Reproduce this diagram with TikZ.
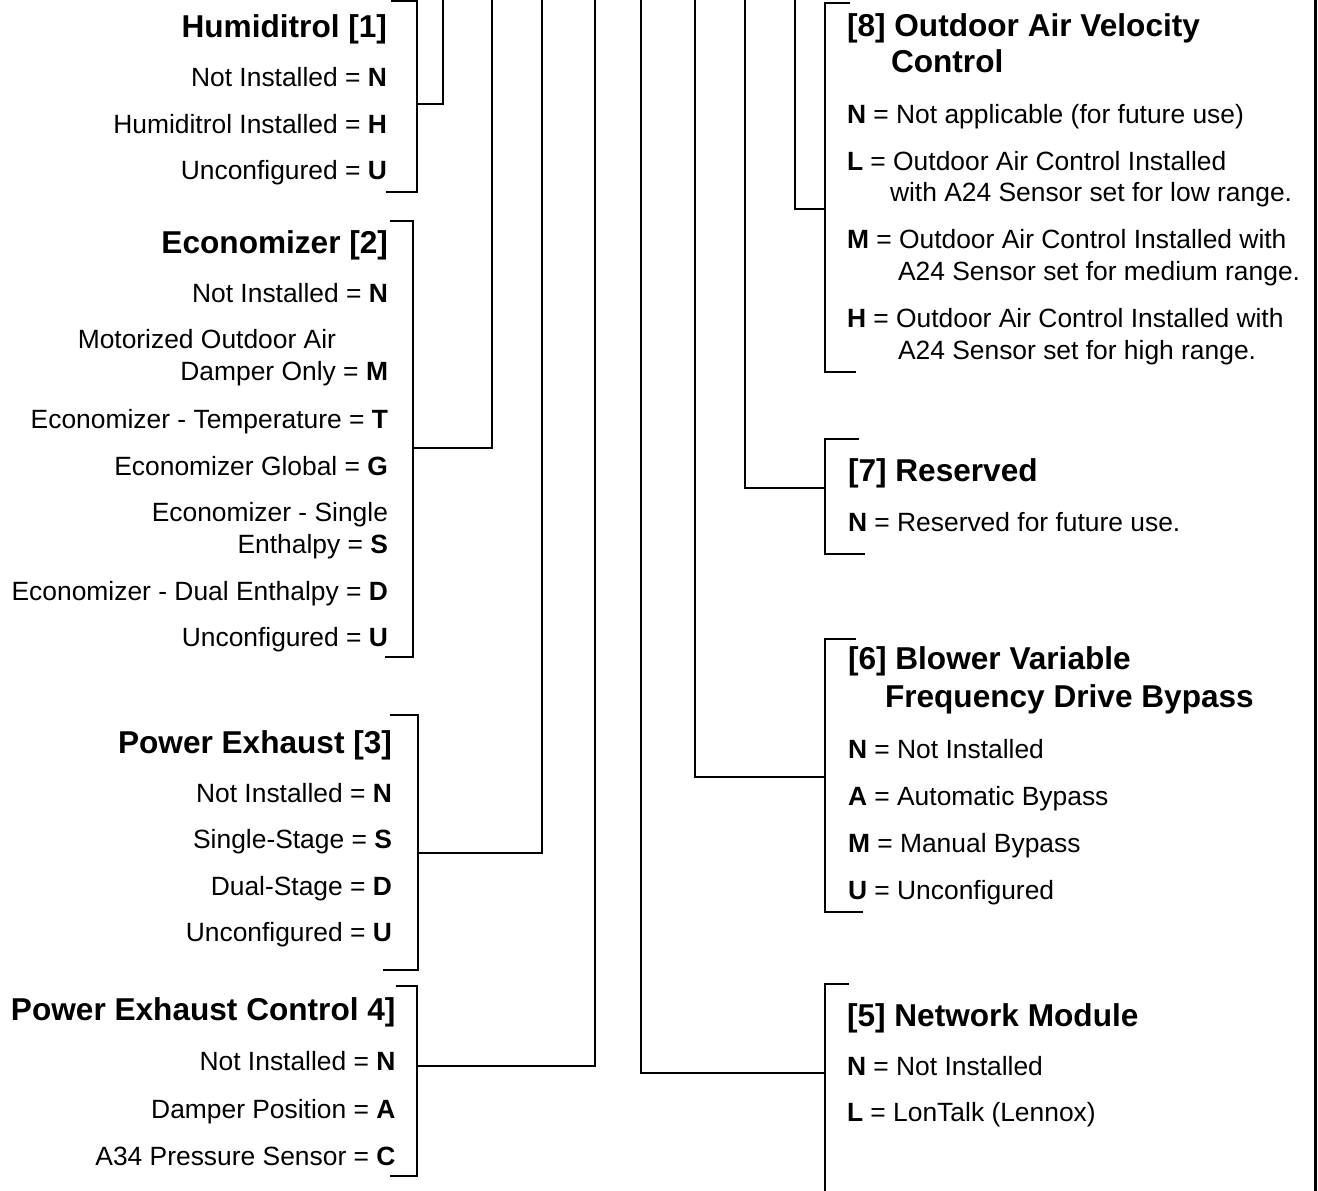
\documentclass[tikz,border=0pt]{standalone}
\usepackage{fontspec}
\setmainfont{Liberation Sans}
\begin{document}
\begin{tikzpicture}[x=1pt, y=-1pt, line width=2pt,
    head/.style={inner sep=0pt, font=\fontsize{31.6}{36}\selectfont\bfseries},
    item/.style={inner sep=0pt, font=\fontsize{26.4}{32}\selectfont}]
    \useasboundingbox (0,0) rectangle (1318,1191);

    % 1. Cot trai: cac muc [1] den [4]
    \node[head, anchor=base east] (hum) at (388,37) {Humiditrol [1]};
    \node[item, anchor=base east] (humN) at (388,86) {Not Installed = \textbf{N}};
    \node[item, anchor=base east] (humH) at (388,133) {Humiditrol Installed = \textbf{H}};
    \node[item, anchor=base east] (humU) at (388,179.5) {Unconfigured = \textbf{U}};

    \node[head, anchor=base east] (eco) at (389,253) {Economizer [2]};
    \node[item, anchor=base east] (ecoN) at (389,302) {Not Installed = \textbf{N}};
    \node[item, anchor=base east] (ecoMa) at (337,348) {Motorized Outdoor Air};
    \node[item, anchor=base east] (ecoM) at (389,380) {Damper Only = \textbf{M}};
    \node[item, anchor=base east] (ecoT) at (389,428) {Economizer - Temperature = \textbf{T}};
    \node[item, anchor=base east] (ecoG) at (389,475) {Economizer Global = \textbf{G}};
    \node[item, anchor=base east] (ecoSa) at (389,521.5) {Economizer - Single};
    \node[item, anchor=base east] (ecoS) at (389,553.5) {Enthalpy = \textbf{S}};
    \node[item, anchor=base east] (ecoD) at (389,600) {Economizer - Dual Enthalpy = \textbf{D}};
    \node[item, anchor=base east] (ecoU) at (389,646.5) {Unconfigured = \textbf{U}};

    \node[head, anchor=base east] (pex) at (393,753) {Power Exhaust [3]};
    \node[item, anchor=base east] (pexN) at (393,802) {Not Installed = \textbf{N}};
    \node[item, anchor=base east] (pexS) at (393,848.5) {Single-Stage = \textbf{S}};
    \node[item, anchor=base east] (pexD) at (393,895) {Dual-Stage = \textbf{D}};
    \node[item, anchor=base east] (pexU) at (393,941.5) {Unconfigured = \textbf{U}};

    \node[head, anchor=base east] (pec) at (396.5,1020) {Power Exhaust Control 4]};
    \node[item, anchor=base east] (pecN) at (396.5,1070) {Not Installed = \textbf{N}};
    \node[item, anchor=base east] (pecA) at (396.5,1118) {Damper Position = \textbf{A}};
    \node[item, anchor=base east] (pecC) at (396.5,1165) {A34 Pressure Sensor = \textbf{C}};

    % 2. Cot phai: cac muc [8] den [5]
    \node[head, anchor=base west] (oav) at (846,36) {[8] Outdoor Air Velocity};
    \node[head, anchor=base west] (oavb) at (890,72.5) {Control};
    \node[item, anchor=base west] (oavN) at (846,123.5) {\textbf{N} = Not applicable (for future use)};
    \node[item, anchor=base west] (oavL) at (846,170) {\textbf{L} = Outdoor Air Control Installed};
    \node[item, anchor=base west] (oavLb) at (889,201.5) {with A24 Sensor set for low range.};
    \node[item, anchor=base west] (oavM) at (846,248.5) {\textbf{M} = Outdoor Air Control Installed with};
    \node[item, anchor=base west] (oavMb) at (897,280) {A24 Sensor set for medium range.};
    \node[item, anchor=base west] (oavH) at (846,327) {\textbf{H} = Outdoor Air Control Installed with};
    \node[item, anchor=base west] (oavHb) at (897,359) {A24 Sensor set for high range.};

    \node[head, anchor=base west] (res) at (847,481.5) {[7] Reserved};
    \node[item, anchor=base west] (resN) at (847,531.5) {\textbf{N} = Reserved for future use.};

    \node[head, anchor=base west] (vfd) at (847,669.5) {[6] Blower Variable};
    \node[head, anchor=base west] (vfdb) at (884,707.5) {Frequency Drive Bypass};
    \node[item, anchor=base west] (vfdN) at (847,758.5) {\textbf{N} = Not Installed};
    \node[item, anchor=base west] (vfdA) at (847,805) {\textbf{A} = Automatic Bypass};
    \node[item, anchor=base west] (vfdM) at (847,852) {\textbf{M} = Manual Bypass};
    \node[item, anchor=base west] (vfdU) at (847,899) {\textbf{U} = Unconfigured};

    \node[head, anchor=base west] (net) at (846,1026.5) {[5] Network Module};
    \node[item, anchor=base west] (netN) at (846,1075) {\textbf{N} = Not Installed};
    \node[item, anchor=base west] (netL) at (846,1121.5) {\textbf{L} = LonTalk (Lennox)};

    % 3. Ngoac cua tung muc
    \draw (391,1) -- (417,1) -- (417,192) -- (386,192);
    \draw (390,221) -- (412.5,221) -- (412.5,657) -- (385,657);
    \draw (390,715) -- (418,715) -- (418,970) -- (383,970);
    \draw (396,986) -- (417,986) -- (417,1176) -- (390,1176);

    \draw (850,3) -- (825,3) -- (825,372) -- (856,372);
    \draw (859,439) -- (825,439) -- (825,554) -- (865,554);
    \draw (856,639) -- (825,639) -- (825,912) -- (863,912);
    \draw (849,984) -- (825,984) -- (825,1195);

    % 4. Diem noi cua ngoac va dau tren cua duong
    \coordinate (j1) at (417,104);    \coordinate (t1) at (443,0);
    \coordinate (j2) at (412.5,448);  \coordinate (t2) at (491.5,0);
    \coordinate (j3) at (418,853);    \coordinate (t3) at (542,0);
    \coordinate (j4) at (417,1066);   \coordinate (t4) at (595,0);
    \coordinate (j5) at (825,1073);   \coordinate (t5) at (641,0);
    \coordinate (j6) at (825,777);    \coordinate (t6) at (694.5,0);
    \coordinate (j7) at (825,488);    \coordinate (t7) at (745,0);
    \coordinate (j8) at (825,209);    \coordinate (t8) at (795,-1);

    % 5. Duong noi
    \foreach \i in {1,...,8}
        \draw (j\i) -| (t\i);

    % 6. Vien phai
    \draw[line width=3pt] (1315.5,-2) -- (1315.5,1193);
\end{tikzpicture}
\end{document}
